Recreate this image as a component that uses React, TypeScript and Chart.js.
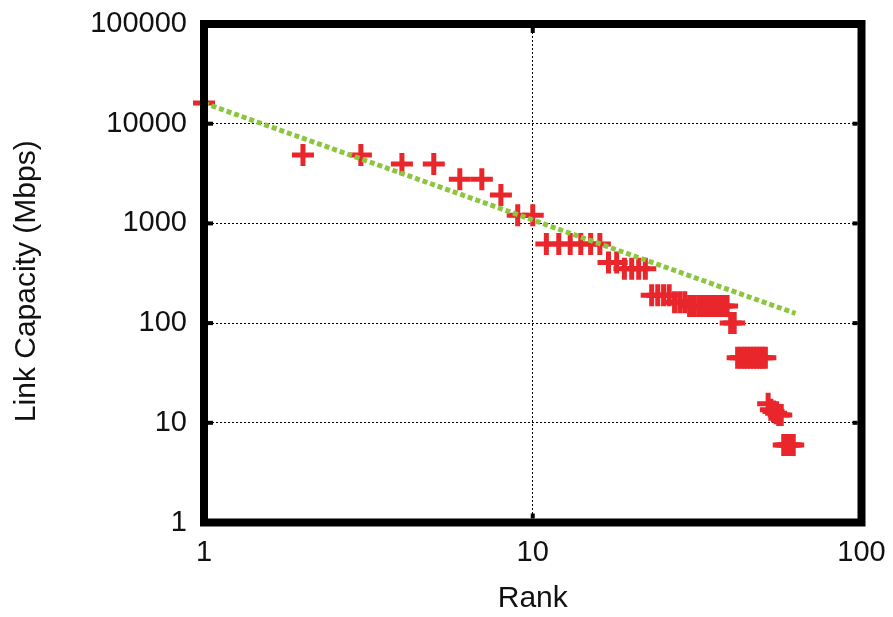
import React, { useEffect, useRef } from "react";
import { Chart, registerables } from "chart.js";

Chart.register(...registerables);

const ranks = [
  1, 2, 3, 4, 5, 6, 7, 8, 9, 10,
  11, 12, 13, 14, 15, 16, 17, 18, 19, 20,
  21, 22, 23, 24, 25, 26, 27, 28, 29, 30,
  31, 32, 33, 34, 35, 36, 37, 38, 39, 40,
  41, 42, 43, 44, 45, 46, 47, 48, 49, 50,
  51, 52, 53, 54, 55, 56, 57, 58, 59, 60,
  61, 62,
];

const capacities = [
  16100, 4850, 4850, 3950, 3950, 2770, 2770, 1930, 1210, 1210,
  620, 620, 620, 620, 620, 620, 405, 405, 350, 350,
  350, 350, 190, 190, 190, 190, 162, 162, 162, 148,
  148, 148, 148, 148, 148, 148, 148, 148, 148, 100,
  100, 45, 45, 45, 45, 45, 45, 45, 45, 45,
  45, 15.5, 13.5, 13, 12.5, 12, 12, 6, 6, 6,
  6, 6,
];

const fitRanks = [1, 63];
const fitCapacities = [16100, 125];

const xTickValues = [1, 10, 100];
const yTickValues = [1, 10, 100, 1000, 10000, 100000];

const xTitle = "Rank";
const yTitle = "Link Capacity (Mbps)";

const FONT = "'Liberation Sans', Arial, Helvetica, sans-serif";
const RED = "#e8262b";
const GREEN = "#8cc63f";
const TEXT = "#111";

const framePlugin = {
  id: "framePlugin",
  afterDatasetsDraw(chart: any) {
    const { ctx, chartArea: a, scales } = chart;
    ctx.save();
    ctx.fillStyle = "#000";
    const tl = 5;
    const tw = 4;
    const half = 4;
    yTickValues.forEach((v) => {
      const y = scales.y.getPixelForValue(v);
      ctx.fillRect(a.left + half, y - tw / 2, tl, tw);
      ctx.fillRect(a.right - half - tl, y - tw / 2, tl, tw);
    });
    xTickValues.forEach((v) => {
      const x = scales.x.getPixelForValue(v);
      ctx.fillRect(x - tw / 2, a.bottom - half - tl, tw, tl);
      ctx.fillRect(x - tw / 2, a.top + half, tw, tl);
    });
    ctx.lineWidth = 8;
    ctx.strokeStyle = "#000";
    ctx.lineJoin = "miter";
    ctx.strokeRect(a.left, a.top, a.right - a.left, a.bottom - a.top);

    // y-axis title
    ctx.fillStyle = TEXT;
    ctx.font = `30px ${FONT}`;
    ctx.textAlign = "center";
    ctx.textBaseline = "middle";
    ctx.translate(27, (a.top + a.bottom) / 2 + 8);
    ctx.rotate(-Math.PI / 2);
    ctx.fillText(yTitle, 0, 0);
    ctx.restore();
  },
};

const zeroPadding = (scale: any) => {
  scale.paddingTop = 0;
  scale.paddingBottom = 0;
  scale.paddingLeft = 0;
  scale.paddingRight = 0;
};

export default function App() {
  const canvasRef = useRef<HTMLCanvasElement | null>(null);

  useEffect(() => {
    if (!canvasRef.current) return;
    const points = ranks.map((r, i) => ({ x: r, y: capacities[i] }));
    const fit = fitRanks.map((r, i) => ({ x: r, y: fitCapacities[i] }));

    const chart = new Chart(canvasRef.current, {
      type: "scatter",
      data: {
        datasets: [
          {
            label: "fit",
            data: fit,
            showLine: true,
            borderColor: GREEN,
            backgroundColor: GREEN,
            borderWidth: 5,
            borderDash: [5, 3],
            borderCapStyle: "butt",
            pointRadius: 0,
            order: 0,
            clip: false,
          } as any,
          {
            label: "capacity",
            data: points,
            showLine: false,
            pointStyle: "cross",
            pointRadius: 11,
            pointBorderWidth: 5,
            pointBorderColor: RED,
            pointBackgroundColor: RED,
            borderColor: RED,
            backgroundColor: RED,
            order: 1,
            clip: false,
          } as any,
        ],
      },
      options: {
        animation: false,
        responsive: false,
        devicePixelRatio: 1,
        layout: { padding: { top: 24, right: 31.5, bottom: 0, left: 0 } },
        plugins: {
          legend: { display: false },
          tooltip: { enabled: false },
        },
        scales: {
          x: {
            type: "logarithmic",
            min: 1,
            max: 100,
            afterBuildTicks: (scale: any) => {
              scale.ticks = xTickValues.map((v) => ({ value: v }));
            },
            afterFit: (scale: any) => {
              scale.height = 94.5;
              zeroPadding(scale);
            },
            ticks: {
              autoSkip: false,
              maxRotation: 0,
              padding: 13,
              color: TEXT,
              font: { family: FONT, size: 29 },
              callback: (v: any) => String(v),
            },
            grid: { color: "#000", lineWidth: 1, drawTicks: false },
            border: { display: false, dash: [2, 2] },
            title: {
              display: true,
              text: xTitle,
              color: TEXT,
              font: { family: FONT, size: 30 },
              padding: { top: 0, bottom: 0 },
            },
          },
          y: {
            type: "logarithmic",
            min: 1,
            max: 100000,
            afterBuildTicks: (scale: any) => {
              scale.ticks = yTickValues.map((v) => ({ value: v }));
            },
            afterFit: (scale: any) => {
              scale.width = 204;
              zeroPadding(scale);
            },
            ticks: {
              autoSkip: false,
              padding: 17,
              color: TEXT,
              font: { family: FONT, size: 29 },
              callback: (v: any) => String(v),
            },
            grid: { color: "#000", lineWidth: 1, drawTicks: false },
            border: { display: false, dash: [2, 2] },
            title: { display: false },
          },
        },
      } as any,
      plugins: [framePlugin],
    });

    return () => {
      chart.destroy();
    };
  }, []);

  return (
    <div
      style={{
        position: "absolute",
        left: 0,
        top: 0,
        width: 893,
        height: 617,
        background: "#fff",
      }}
    >
      <canvas
        ref={canvasRef}
        width={893}
        height={617}
        style={{ width: 893, height: 617, display: "block" }}
      />
    </div>
  );
}
